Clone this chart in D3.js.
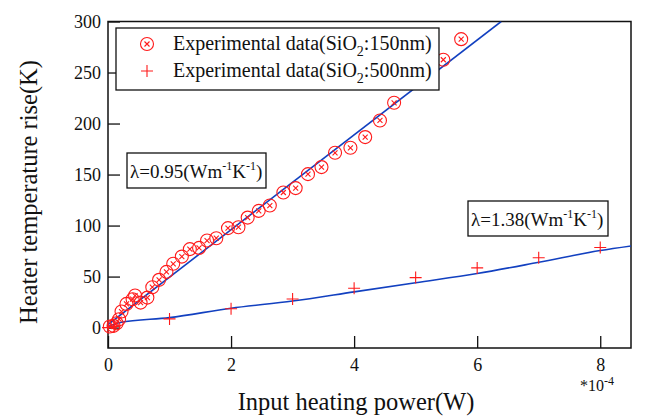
<!DOCTYPE html>
<html>
<head>
<meta charset="utf-8">
<script src="https://cdn.jsdelivr.net/npm/d3@7/dist/d3.min.js"></script>
<style>
  body { margin: 0; background: #fff; }
  svg text { font-family: "Liberation Serif", "Times New Roman", serif; fill: #111; }
</style>
</head>
<body>
<div id="chart"></div>
<script>
// x in units of 1e-4 W, y in K
const thin150 = [[0.03,1],[0.09,1.7],[0.14,4.3],[0.18,8.2],[0.22,15.7],[0.30,23.2],[0.40,27.8],[0.44,31.4],
  [0.53,24.5],[0.64,29.4],[0.72,39.6],[0.83,46.8],[0.95,54.6],[1.06,62.5],[1.20,69.6],[1.33,76.9],[1.48,78.1],
  [1.61,85.3],[1.76,87.6],[1.95,97.5],[2.12,98.4],[2.27,107.8],[2.45,114.4],[2.63,119.6],[2.85,132.4],
  [3.05,136.7],[3.25,150.4],[3.47,157.3],[3.69,171.3],[3.94,176.2],[4.18,186.7],[4.42,203],[4.65,220.3],
  [5.45,262.5],[5.74,282.7]];
const thick500 = [[0,0],[0.1,1],[1,8.5],[2,18.5],[3,28],[4,38.5],[5,49],[6,58.5],[7,68.5],[8,78.5]];
const fit150 = [[0,3],[6.39,300]];
const fit500 = [[0,1],[0.2,5],[1,9.8],[2,19],[3,26],[4,35],[5,44],[6,53],[7,64],[8,75.5],[8.5,80]];
const xTicks = [0,2,4,6,8];
const yTicks = [0,50,100,150,200,250,300];

const W = 656, H = 416;
const red = "#ff1a1a", blue = "#1240c0";

const x = d3.scaleLinear().domain([0, 8.5]).range([108, 631]);
const y = d3.scaleLinear().domain([-20, 300]).range([348, 21.5]);

const svg = d3.select("#chart").append("svg").attr("width", W).attr("height", H);

svg.append("clipPath").attr("id", "plot")
  .append("rect").attr("x", 108).attr("y", 21.5).attr("width", 523).attr("height", 326.5);

// axes with inward ticks
const yAxis = svg.append("g").attr("transform", "translate(108,0)")
  .call(d3.axisLeft(y).tickValues(yTicks).tickSize(-12).tickPadding(7));
const xAxis = svg.append("g").attr("transform", "translate(0,348)")
  .call(d3.axisBottom(x).tickValues(xTicks).tickSize(-12).tickPadding(8));
[yAxis, xAxis].forEach(a => {
  a.select(".domain").remove();
  a.selectAll(".tick line").attr("stroke", "#111").attr("stroke-width", 1.3);
  a.selectAll(".tick text").style("font-size", "18px").attr("fill", "#111");
});
xAxis.selectAll(".tick text").attr("dy", "0.85em");

svg.append("rect").attr("x", 108).attr("y", 21.5).attr("width", 523).attr("height", 326.5)
  .attr("fill", "none").attr("stroke", "#111").attr("stroke-width", 1.5);

// fit lines
const line = d3.line().x(d => x(d[0])).y(d => y(d[1]));
const g = svg.append("g").attr("clip-path", "url(#plot)");
g.append("path").datum(fit150).attr("d", line).attr("fill", "none").attr("stroke", blue).attr("stroke-width", 1.6);
g.append("path").datum(fit500).attr("d", d3.line().curve(d3.curveMonotoneX).x(d => x(d[0])).y(d => y(d[1])))
  .attr("fill", "none").attr("stroke", blue).attr("stroke-width", 1.6);

// markers
function circleX(sel) {
  sel.append("circle").attr("r", 6.5).attr("fill", "none").attr("stroke", red).attr("stroke-width", 1.1);
  sel.append("path").attr("d", "M-2.5,-2.5L2.5,2.5M-2.5,2.5L2.5,-2.5").attr("stroke", red).attr("stroke-width", 1.1);
}
function plus(sel) {
  sel.append("path").attr("d", "M-6,0H6M0,-6V6").attr("stroke", red).attr("stroke-width", 1.1);
}
svg.append("g").selectAll("g").data(thin150).join("g")
  .attr("transform", d => `translate(${x(d[0])},${y(d[1])})`).call(circleX);
svg.append("g").selectAll("g").data(thick500).join("g")
  .attr("transform", d => `translate(${x(d[0])},${y(d[1])})`).call(plus);

// legend
const leg = svg.append("g");
leg.append("rect").attr("x", 116).attr("y", 28).attr("width", 323).attr("height", 62)
  .attr("fill", "#fff").attr("stroke", "#111").attr("stroke-width", 1.3);
const legRows = [{nm: "150nm", mark: circleX, yy: 44}, {nm: "500nm", mark: plus, yy: 71}];
legRows.forEach(r => {
  leg.append("g").attr("transform", `translate(147,${r.yy})`).call(r.mark);
  const t = leg.append("text").attr("x", 173).attr("y", r.yy + 6).style("font-size", "20px");
  t.append("tspan").text("Experimental data(SiO");
  t.append("tspan").attr("dy", 6).style("font-size", "14px").text("2");
  t.append("tspan").attr("dy", -6).text(":" + r.nm + ")");
});

// lambda annotations
function lambdaBox(bx, by, bw, val) {
  svg.append("rect").attr("x", bx).attr("y", by).attr("width", bw).attr("height", 35)
    .attr("fill", "#fff").attr("stroke", "#111").attr("stroke-width", 1.3);
  const t = svg.append("text").attr("x", bx + 3).attr("y", by + 25).style("font-size", "19px");
  t.append("tspan").text("λ=" + val + "(Wm");
  t.append("tspan").attr("dy", -8).style("font-size", "12px").text("-1");
  t.append("tspan").attr("dy", 8).text("K");
  t.append("tspan").attr("dy", -8).style("font-size", "12px").text("-1");
  t.append("tspan").attr("dy", 8).text(")");
}
lambdaBox(127, 153, 139, "0.95");
lambdaBox(468, 201, 140, "1.38");

// axis titles
svg.append("text").attr("transform", "translate(37,192) rotate(-90)").attr("text-anchor", "middle")
  .style("font-size", "24.5px").text("Heater temperature rise(K)");
svg.append("text").attr("x", 356).attr("y", 410).attr("text-anchor", "middle")
  .style("font-size", "24.5px").text("Input heating power(W)");
const ex = svg.append("text").attr("x", 580).attr("y", 391).style("font-size", "16px");
ex.append("tspan").text("*10");
ex.append("tspan").attr("dy", -6).style("font-size", "12px").text("-4");
</script>
</body>
</html>
